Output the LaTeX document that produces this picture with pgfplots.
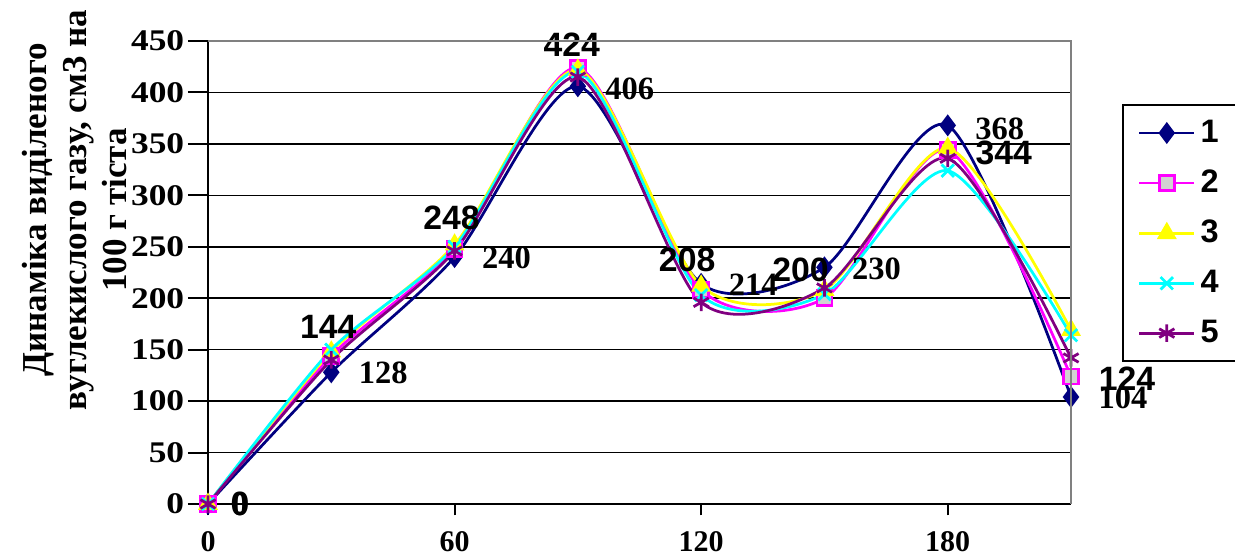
\documentclass[border=0pt]{standalone}
\usepackage{fontspec}
\setmainfont{Liberation Serif}
\newfontfamily\arialfont{Liberation Sans}
\newfontfamily\wideserif[FakeStretch=1.18]{Liberation Serif}
\usepackage{pgfplots}
\pgfplotsset{compat=1.18}
\usepackage{pgfplotstable}

\definecolor{navyS}{RGB}{0,0,128}
\definecolor{magS}{RGB}{255,0,255}
\definecolor{yelS}{RGB}{255,255,0}
\definecolor{cyanS}{RGB}{0,255,255}
\definecolor{purS}{RGB}{128,0,128}

% gas release per 100 g of dough, five samples
\pgfplotstableread{
x   s1  s2  s3  s4  s5
0   0   0   0   0   0
30  128 144 148 150 140
60  240 248 252 250 246
90  406 424 422 420 415
120 214 208 212 203 196
150 230 200 208 204 210
180 368 344 346 324 336
210 104 124 169 164 142
}\gasdata

% value labels of samples 1 and 2, with their offsets (pt)
\pgfplotstableread{
x   s1  dxa  dya  s2  dxb  dyb
0   0   12.8 -0.4 0   12.8 0
30  128 20.8 -0.4 144 -1.2 11.6
60  240 20.8 -0.4 248 -1.2 12.4
90  406 20.8 -1.2 424 -2.4 9.2
120 214 20.8 -0.4 208 -5.6 12.0
150 230 20.8 -0.4 200 -9.6 11.2
180 368 20.8 -1.2 344 22.4 -1.2
210 104 20.8 -0.4 124 22.4 -0.8
}\labdata

\begin{document}
\begin{tikzpicture}
\useasboundingbox (-83.2pt,-21.2pt) rectangle (410.8pt,201.6pt);
\begin{axis}[
  scale only axis,
  width=345.2pt, height=185.2pt,
  xmin=0, xmax=210, ymin=0, ymax=450,
  xtick={0,60,120,180},
  ytick={0,50,...,450},
  axis x line*=bottom, axis y line*=left,
  axis line style={black, line width=0.8pt},
  tick align=outside,
  major tick length=6pt,
  xtick style={/pgfplots/major tick length=4.5pt},
  ytick style={/pgfplots/major tick length=8pt},
  tick style={black, line width=0.8pt},
  ymajorgrids,
  grid style={black, line width=0.6pt},
  /pgf/number format/assume math mode=true,
  xticklabel style={font=\bfseries\fontsize{12}{14}\selectfont, yshift=-1.5pt},
  yticklabel style={font=\wideserif\bfseries\fontsize{12}{14}\selectfont},
  ylabel={Динаміка виділеного\\вуглекислого газу, см3 на\\100 г тіста},
  ylabel style={at={(rel axis cs:-0.1541,0.635)}, anchor=center, align=center,
    font=\bfseries\fontsize{14}{16}\selectfont},
  every axis plot/.append style={line width=1.1pt, smooth, tension=0.45},
  legend style={at={(rel axis cs:1.059,0.864)}, anchor=north west,
    draw=black, line width=0.8pt, inner xsep=6pt, inner ysep=4pt,
    row sep=5.5pt,
    font=\arialfont\bfseries\fontsize{13}{15}\selectfont},
  legend cell align=left,
  legend image code/.code={%
    \draw[mark repeat=2,mark phase=2,#1] plot coordinates {(0pt,0pt) (11pt,0pt) (22pt,0pt)};},
  after end axis/.code={%
    \draw[gray, line width=0.8pt] (rel axis cs:0,1) -- (rel axis cs:1,1) -- (rel axis cs:1,0);},
]
\addplot[navyS, mark=diamond*, mark size=3.5pt, mark options={solid, fill=navyS}]
  table[x=x, y=s1] {\gasdata};
\addlegendentry{1}
\addplot[magS, mark=square*, mark size=3pt, mark options={solid, fill=gray!35, draw=magS}]
  table[x=x, y=s2] {\gasdata};
\addlegendentry{2}
\addplot[yelS, mark=triangle*, mark size=3.5pt, mark options={solid, fill=yelS}]
  table[x=x, y=s3] {\gasdata};
\addlegendentry{3}
\addplot[cyanS, mark=x, mark size=3.5pt, mark options={solid}]
  table[x=x, y=s4] {\gasdata};
\addlegendentry{4}
\addplot[purS, mark=asterisk, mark size=3.5pt, mark options={solid}]
  table[x=x, y=s5] {\gasdata};
\addlegendentry{5}

% value labels on top of all curves
\addplot[draw=none, mark=none, forget plot, nodes near coords,
  point meta=explicit symbolic,
  visualization depends on={\thisrow{dxa}\as\dxa},
  visualization depends on={\thisrow{dya}\as\dya},
  every node near coord/.append style={anchor=center, inner sep=0pt,
    xshift=\dxa pt, yshift=\dya pt, text=black,
    font=\bfseries\fontsize{13}{15}\selectfont}]
  table[x=x, y=s1, meta=s1] {\labdata};
\addplot[draw=none, mark=none, forget plot, nodes near coords,
  point meta=explicit symbolic,
  visualization depends on={\thisrow{dxb}\as\dxb},
  visualization depends on={\thisrow{dyb}\as\dyb},
  every node near coord/.append style={anchor=center, inner sep=0pt,
    xshift=\dxb pt, yshift=\dyb pt, text=black,
    font=\arialfont\bfseries\fontsize{13.5}{15}\selectfont}]
  table[x=x, y=s2, meta=s2] {\labdata};
\end{axis}
\end{tikzpicture}
\end{document}
